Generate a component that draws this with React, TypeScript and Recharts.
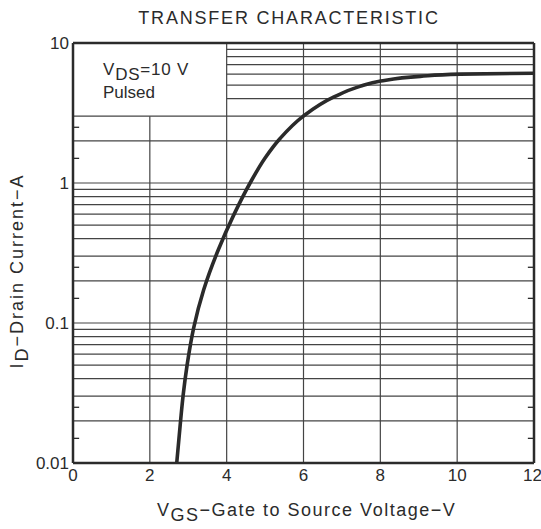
import React from "react";
import { LineChart, Line, XAxis, YAxis, ReferenceLine } from "recharts";

const vgs = [2.70, 2.80, 2.87, 2.97, 3.14, 3.40, 3.78, 4.17, 4.61, 5.0, 5.39, 5.98, 6.78, 7.47, 8.01, 9.04, 10.08, 12];
const idA = [0.01, 0.02, 0.031, 0.05, 0.092, 0.172, 0.332, 0.58, 1.0, 1.51, 2.08, 2.98, 4.1, 4.9, 5.35, 5.78, 5.99, 6.08];

const xTicks = [0, 2, 4, 6, 8, 10, 12];
const yTicks = [0.01, 0.1, 1, 10];
const hGrid = [
  0.02, 0.03, 0.04, 0.05, 0.06, 0.07, 0.08, 0.09,
  0.1, 0.2, 0.3, 0.4, 0.5, 0.6, 0.7, 0.8, 0.9,
  1, 2, 3, 4, 5, 6, 7, 8, 9,
];
const vGrid = [2, 4, 6, 8, 10];
const minorTicks = [0.015, 0.025, 0.15, 0.25, 1.5, 2.5];
const boxX = [0, 4];
const boxY = [3, 10];
const xDomain = [0, 12];
const yDomain = [0.01, 10];
const minorLen = 0.16;

const data = vgs.map((v, i) => ({ v, i: idA[i] }));

const FONT = "'Liberation Sans', Arial, Helvetica, sans-serif";
const INK = "#2b2b2b";
const GRID = "#444";

export default function App() {
  return (
    <div style={{ position: "absolute", left: 0, top: 0, width: 541, height: 529, background: "#fff" }}>
      <LineChart
        width={541}
        height={529}
        data={data}
        margin={{ top: 43, right: 7, bottom: 0, left: 0 }}
      >
        <XAxis
          type="number"
          dataKey="v"
          domain={xDomain}
          ticks={xTicks}
          allowDataOverflow
          height={66}
          tickSize={0}
          tickMargin={6}
          axisLine={{ stroke: INK, strokeWidth: 2.5 }}
          tickLine={false}
          tick={{ fill: INK, fontSize: 17, fontFamily: FONT }}
        />
        <YAxis
          type="number"
          scale="log"
          domain={yDomain}
          ticks={yTicks}
          allowDataOverflow
          width={73}
          tickSize={0}
          tickMargin={4}
          axisLine={{ stroke: INK, strokeWidth: 2.5 }}
          tickLine={false}
          tickFormatter={(t: number) => String(t)}
          tick={{ fill: INK, fontSize: 17, fontFamily: FONT }}
        />
        {hGrid.map((y) => {
          const x0 = y > boxY[0] && y < boxY[1] ? boxX[1] : xDomain[0];
          return (
            <ReferenceLine
              key={"h" + y}
              segment={[{ x: x0, y }, { x: xDomain[1], y }]}
              stroke={GRID}
              strokeWidth={1.2}
              ifOverflow="visible"
            />
          );
        })}
        {vGrid.map((x) => {
          const y1 = x > boxX[0] && x < boxX[1] ? boxY[0] : yDomain[1];
          return (
            <ReferenceLine
              key={"v" + x}
              segment={[{ x, y: yDomain[0] }, { x, y: y1 }]}
              stroke={GRID}
              strokeWidth={1.2}
              ifOverflow="visible"
            />
          );
        })}
        {minorTicks.map((y) => (
          <ReferenceLine
            key={"ml" + y}
            segment={[{ x: xDomain[0], y }, { x: xDomain[0] + minorLen, y }]}
            stroke={INK}
            strokeWidth={1.3}
            ifOverflow="visible"
          />
        ))}
        {minorTicks.map((y) => (
          <ReferenceLine
            key={"mr" + y}
            segment={[{ x: xDomain[1] - minorLen, y }, { x: xDomain[1], y }]}
            stroke={INK}
            strokeWidth={1.3}
            ifOverflow="visible"
          />
        ))}
        <ReferenceLine
          segment={[{ x: xDomain[0], y: yDomain[1] }, { x: xDomain[1], y: yDomain[1] }]}
          stroke={INK}
          strokeWidth={2.5}
          ifOverflow="visible"
        />
        <ReferenceLine
          segment={[{ x: xDomain[1], y: yDomain[0] }, { x: xDomain[1], y: yDomain[1] }]}
          stroke={INK}
          strokeWidth={2.5}
          ifOverflow="visible"
        />
        <Line
          type="monotoneY"
          dataKey="i"
          stroke="#2a2a2a"
          strokeWidth={3.6}
          dot={false}
          isAnimationActive={false}
        />
      </LineChart>
      <svg
        width={541}
        height={529}
        style={{ position: "absolute", left: 0, top: 0, pointerEvents: "none" }}
        fontFamily={FONT}
        fill={INK}
      >
        <text x={289} y={24} fontSize={18} letterSpacing={1.8} textAnchor="middle">
          TRANSFER CHARACTERISTIC
        </text>
        <text x={103} y={75} fontSize={17} letterSpacing={0.8}>
          V<tspan dy={5}>DS</tspan>
          <tspan dy={-5}>{"=10 V"}</tspan>
        </text>
        <text x={103} y={98} fontSize={17}>
          Pulsed
        </text>
        <text x={157} y={516} fontSize={18} letterSpacing={1.5}>
          V<tspan dy={5}>GS</tspan>
          <tspan dy={-5}>{"\u2212Gate to Source Voltage\u2212V"}</tspan>
        </text>
        <text
          transform="translate(23,271) rotate(-90)"
          fontSize={18}
          letterSpacing={2}
          textAnchor="middle"
        >
          I<tspan dy={5}>D</tspan>
          <tspan dy={-5}>{"\u2212Drain Current\u2212A"}</tspan>
        </text>
      </svg>
    </div>
  );
}
